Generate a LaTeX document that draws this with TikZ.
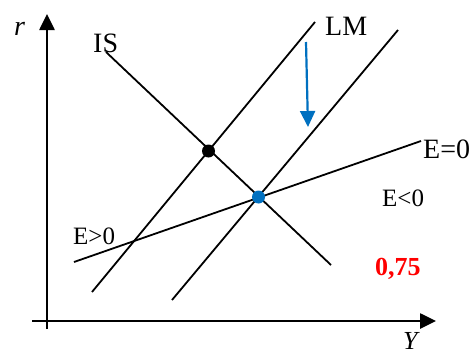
\documentclass[tikz,border=0pt]{standalone}
\usepackage{fontspec}
\setmainfont{Liberation Serif}
\usetikzlibrary{arrows.meta}
\definecolor{mblue}{RGB}{0,112,192}
\definecolor{mred}{RGB}{255,0,0}
\begin{document}
\begin{tikzpicture}[x=1pt,y=-1pt,
  curve/.style={line width=1.8pt},
  axis/.style={line width=2.6pt,-{Triangle[length=16pt,width=15pt]}},
  lbl/.style={inner sep=0pt,anchor=base west,font=\fontsize{28}{30}\selectfont},
  slbl/.style={inner sep=0pt,anchor=base west,font=\fontsize{25}{28}\selectfont},
  dot/.style={circle,inner sep=0pt,minimum size=13pt}]
\useasboundingbox (0,0) rectangle (474,356);
% axes
\coordinate (ybot) at (47,329);
\coordinate (ytop) at (47,14);
\coordinate (xl) at (32,321);
\coordinate (xr) at (436,321);
\draw[axis] (ybot) -- (ytop);
\draw[axis] (xl) -- (xr);
% curves
\coordinate (is1) at (106,52);
\coordinate (is2) at (331,265);
\coordinate (lma1) at (92,292);
\coordinate (lma2) at (315,22);
\coordinate (lmb1) at (172,300);
\coordinate (lmb2) at (398,30);
\coordinate (e1) at (74,262);
\coordinate (e2) at (421,141);
\draw[curve] (is1) -- (is2);
\draw[curve] (lma1) -- (lma2);
\draw[curve] (lmb1) -- (lmb2);
\draw[curve] (e1) -- (e2);
% shift arrow
\coordinate (ba1) at (306,42);
\coordinate (ba2) at (308,127);
\draw[mblue,line width=2.2pt,-{Triangle[length=16pt,width=15pt]}] (ba1) -- (ba2);
% dots
\node[dot,fill=black] (d1) at (208.5,151) {};
\node[dot,fill=mblue] (d2) at (258.5,197) {};
% labels
\node[lbl,font=\fontsize{28}{30}\selectfont\itshape] (r) at (14,35) {r};
\node[lbl,font=\fontsize{26}{30}\selectfont\itshape] (Y) at (403,349.5) {Y};
\node[lbl] (IS) at (93,52) {IS};
\node[lbl] (LM) at (325,35) {LM};
\node[lbl] (E0) at (423,158) {E=0};
\node[slbl] (El) at (382,206) {E<0};
\node[slbl] (Eg) at (73,244) {E>0};
\node[slbl,font=\fontsize{26}{28}\selectfont\bfseries,text=mred] (v) at (375,275) {0,75};
\end{tikzpicture}
\end{document}
